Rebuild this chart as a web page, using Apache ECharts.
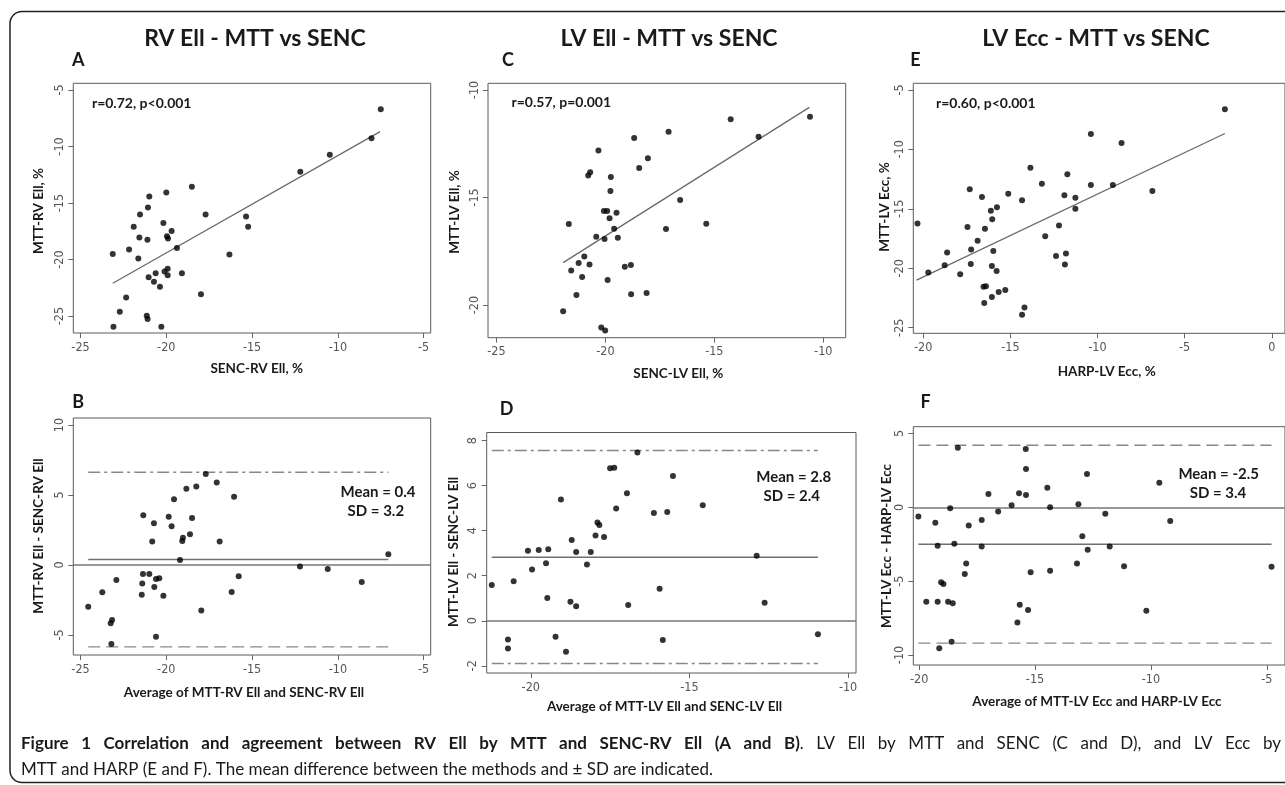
<!DOCTYPE html>
<html><head><meta charset="utf-8">
<script src="https://cdn.jsdelivr.net/npm/echarts@6/dist/echarts.min.js"></script>
<style>html,body{margin:0;padding:0;background:#fff}#c{width:1285px;height:785px}</style>
</head><body><div id="c"></div><script>
// ---- Panel A: SENC-RV Ell (x) vs MTT-RV Ell (y)
const aX = [-7.50,-8.04,-10.47,-12.19,-18.51,-20.00,-20.99,-21.07,-21.53,-17.71,-15.35,-15.23,-21.90,-20.17,-19.69,-19.96,-19.90,-21.57,-21.10,-19.38,-22.17,-23.12,-21.63,-16.32,-19.92,-20.10,-19.92,-20.62,-19.09,-21.03,-20.72,-20.37,-17.98,-22.34,-22.71,-21.14,-21.09,-23.08,-20.29];
const aY = [-6.71,-9.28,-10.73,-12.24,-13.57,-14.07,-14.42,-15.40,-16.02,-16.02,-16.20,-17.11,-17.11,-16.76,-17.47,-17.94,-18.15,-18.06,-18.26,-18.97,-19.12,-19.51,-19.92,-19.56,-20.81,-21.07,-21.40,-21.22,-21.22,-21.57,-21.96,-22.40,-23.08,-23.35,-24.62,-24.97,-25.27,-25.95,-25.95];
const fitAX = [-23.12, -7.54];
const fitAY = [-22.10, -8.69];
// ---- Panel B: average vs difference RV Ell
const bX = [-17.70,-17.06,-18.25,-18.83,-16.05,-19.55,-21.34,-19.86,-18.50,-20.72,-19.69,-18.62,-19.03,-19.07,-20.82,-16.89,-19.20,-7.06,-12.21,-10.59,-8.61,-15.78,-21.36,-20.99,-20.60,-20.41,-22.91,-21.40,-20.70,-23.73,-21.43,-20.17,-16.19,-24.55,-17.96,-23.16,-23.24,-20.60,-23.20];
const bY = [6.50,5.90,5.60,5.45,4.88,4.69,3.55,3.45,3.36,2.98,2.76,2.19,1.95,1.71,1.67,1.67,0.36,0.76,-0.10,-0.29,-1.21,-0.81,-0.64,-0.64,-1.00,-0.95,-1.07,-1.33,-1.57,-1.95,-2.12,-2.19,-1.93,-2.98,-3.26,-3.93,-4.17,-5.12,-5.64];
const bSpan = [-24.55, -7.06];
const bLines = [6.62, 0.4, -5.85];   // upper limit, mean, lower limit
// ---- Panel C: SENC-LV Ell vs MTT-LV Ell
const cX = [-10.61,-14.25,-12.97,-17.10,-18.68,-20.32,-18.05,-18.45,-20.79,-20.70,-19.75,-19.77,-16.57,-20.07,-19.92,-19.49,-19.81,-21.68,-15.37,-17.22,-19.60,-20.42,-20.04,-19.43,-20.97,-21.23,-20.73,-21.57,-19.11,-18.83,-21.07,-19.90,-21.33,-18.82,-18.11,-21.94,-20.19,-20.01];
const cY = [-11.24,-11.36,-12.17,-11.94,-12.23,-12.82,-13.18,-13.63,-13.98,-13.83,-14.05,-14.70,-15.12,-15.63,-15.63,-15.71,-15.97,-16.23,-16.22,-16.47,-16.45,-16.82,-16.93,-16.87,-17.74,-18.05,-18.12,-18.40,-18.22,-18.14,-18.70,-18.84,-19.53,-19.50,-19.44,-20.29,-21.04,-21.19];
const fitCX = [-21.94, -10.64];
const fitCY = [-18.03, -10.81];
// ---- Panel D: average vs difference LV Ell
const dX = [-16.64,-17.50,-17.37,-15.52,-19.05,-16.97,-17.31,-14.58,-16.12,-15.70,-17.90,-17.84,-17.96,-17.69,-18.71,-20.09,-19.75,-19.45,-18.57,-18.11,-19.96,-19.52,-18.23,-12.88,-21.23,-20.54,-15.94,-19.48,-18.75,-18.57,-16.93,-12.63,-20.72,-20.72,-19.22,-18.89,-15.84,-10.95];
const dY = [7.47,6.77,6.80,6.43,5.39,5.66,4.98,5.13,4.79,4.83,4.36,4.25,3.79,3.72,3.59,3.11,3.14,3.17,3.05,3.05,2.28,2.55,2.50,2.89,1.59,1.75,1.42,1.01,0.84,0.64,0.70,0.80,-0.83,-1.23,-0.71,-1.38,-0.86,-0.60];
const dSpan = [-21.23, -10.95];
const dLines = [7.56, 2.82, -1.90];
// ---- Panel E: HARP-LV Ecc vs MTT-LV Ecc
const eX = [-2.69,-10.38,-8.62,-13.85,-11.73,-13.19,-10.38,-9.12,-6.85,-17.33,-16.63,-15.12,-14.33,-11.90,-11.27,-11.27,-15.77,-16.12,-16.04,-20.33,-17.46,-16.46,-12.21,-13.00,-16.88,-17.25,-15.98,-18.63,-12.38,-11.81,-18.77,-17.27,-16.06,-11.87,-15.79,-19.71,-17.88,-16.54,-16.40,-15.29,-15.67,-16.06,-16.50,-14.19,-14.33];
const eY = [-6.63,-8.71,-9.46,-11.54,-12.10,-12.90,-12.99,-12.99,-13.50,-13.35,-14.00,-13.74,-14.27,-13.86,-14.06,-14.99,-14.87,-15.16,-15.88,-16.23,-16.53,-16.68,-16.41,-17.30,-17.69,-18.43,-18.55,-18.67,-18.97,-18.76,-19.74,-19.65,-19.80,-19.68,-20.22,-20.36,-20.51,-21.55,-21.52,-21.82,-22.00,-22.41,-22.92,-23.31,-23.90];
const fitEX = [-20.38, -2.69];
const fitEY = [-20.99, -8.66];
// ---- Panel F: average vs difference LV Ecc
const fX = [-18.33,-15.40,-15.39,-12.76,-9.64,-14.47,-17.01,-15.69,-15.39,-16.01,-13.13,-14.35,-18.66,-16.59,-20.03,-19.30,-17.30,-17.86,-11.97,-9.17,-12.96,-19.20,-18.48,-17.30,-12.73,-11.78,-17.97,-13.19,-11.16,-4.80,-18.03,-15.19,-14.35,-19.05,-18.95,-19.69,-19.20,-18.75,-18.55,-15.66,-15.30,-10.20,-15.76,-19.13,-18.60];
const fY = [4.04,3.95,2.60,2.26,1.67,1.33,0.90,0.95,0.84,0.14,0.20,0.00,-0.07,-0.29,-0.63,-1.04,-0.86,-1.24,-0.43,-0.93,-1.96,-2.60,-2.46,-2.66,-2.87,-2.66,-3.81,-3.81,-4.00,-4.02,-4.51,-4.40,-4.29,-5.08,-5.19,-6.40,-6.40,-6.40,-6.50,-6.60,-6.95,-7.00,-7.80,-9.55,-9.10];
const fSpan = [-20.03, -4.80];
const fLines = [4.2, -2.5, -9.2];
// ---- tick labels
const ticksA_x = [-25,-20,-15,-10,-5], ticksA_y = [-25,-20,-15,-10,-5];
const ticksB_x = [-25,-20,-15,-10,-5], ticksB_y = [-5,0,5,10];
const ticksC_x = [-25,-20,-15,-10],    ticksC_y = [-20,-15,-10];
const ticksD_x = [-20,-15,-10],        ticksD_y = [-2,0,2,4,6,8];
const ticksE_x = [-20,-15,-10,-5,0],   ticksE_y = [-25,-20,-15,-10,-5];
const ticksF_x = [-20,-15,-10,-5],     ticksF_y = [-10,-5,0,5];
// ---- caption
const captionBold = 'Figure 1 Correlation and agreement between RV Ell by MTT and SENC-RV Ell (A and B)';
const captionRest1 = 'LV Ell by MTT and SENC (C and D), and LV Ecc by';
const captionLine2 = 'MTT and HARP (E and F). The mean difference between the methods and \u00b1 SD are indicated.';

const chart = echarts.init(document.getElementById('c'), null, {renderer:'canvas', width:1285, height:785});
const pts = (xs, ys) => xs.map((x, i) => [x, ys[i]]);
const TF = "'Liberation Sans Narrow','DejaVu Sans Condensed','Arial Narrow',sans-serif";
const LF = "Lato, 'Open Sans', sans-serif";

const grids = [
  {left:73.3, top:83.3, width:357.4, height:249.7},
  {left:73.3, top:418, width:357.4, height:237},
  {left:488, top:83.3, width:357.7, height:254.4},
  {left:486.7, top:432.5, width:369.3, height:240.5},
  {left:913.3, top:83.3, width:371.7, height:250},
  {left:913.3, top:426.7, width:371.7, height:238.3}
].map(g => Object.assign(g, {show:true, borderColor:'#5a5a5a', borderWidth:1, backgroundColor:'transparent'}));

function xAx(gi, min, max, ticks){
  return {type:'value', gridIndex:gi, min:min, max:max, scale:true,
    axisLine:{show:false, onZero:false}, splitLine:{show:false},
    axisTick:{show:true, length:5, customValues:ticks, lineStyle:{color:'#666'}},
    axisLabel:{customValues:ticks, margin:8, color:'#555', fontSize:12.5, fontFamily:TF}};
}
function yAx(gi, min, max, ticks){
  return {type:'value', gridIndex:gi, min:min, max:max, scale:true,
    axisLine:{show:false, onZero:false}, splitLine:{show:false},
    axisTick:{show:true, length:5, customValues:ticks, lineStyle:{color:'#666'}},
    axisLabel:{customValues:ticks, margin:7, rotate:90, color:'#555', fontSize:12.5, fontFamily:TF}};
}
const xAxes = [
  xAx(0, -25.42, -4.59, ticksA_x), xAx(1, -25.42, -4.59, ticksB_x),
  xAx(2, -25.39, -8.97, ticksC_x), xAx(3, -21.39, -9.75, ticksD_x),
  xAx(4, -20.57, 0.76, ticksE_x),  xAx(5, -20.25, -4.22, ticksF_x)
];
const yAxes = [
  yAx(0, -26.5, -4.41, ticksA_y), yAx(1, -6.43, 10.5, ticksB_y),
  yAx(2, -21.52, -9.69, ticksC_y), yAx(3, -2.32, 8.36, ticksD_y),
  yAx(4, -25.47, -4.44, ticksE_y), yAx(5, -10.68, 5.46, ticksF_y)
];

const series = [];
function scatter(i, xs, ys){
  series.push({type:'scatter', xAxisIndex:i, yAxisIndex:i, data:pts(xs, ys), symbolSize:6,
    itemStyle:{color:'#000'}, z:5, silent:true});
}
function seg(i, xs, ys, style){
  series.push({type:'line', xAxisIndex:i, yAxisIndex:i, data:pts(xs, ys), symbol:'none', showSymbol:false,
    lineStyle:style, z:2, silent:true});
}
function blandAltman(i, span, lines, upperType, lowerType){
  seg(i, span, [lines[0], lines[0]], {color:'#888', width:1.4, type:upperType});
  seg(i, span, [lines[2], lines[2]], {color:'#888', width:1.4, type:lowerType});
  series.push({type:'line', xAxisIndex:i, yAxisIndex:i, data:pts(span, [lines[1], lines[1]]), symbol:'none',
    lineStyle:{color:'#6f6f6f', width:1.5}, z:2, silent:true,
    markLine:{silent:true, symbol:['none','none'], label:{show:false},
      lineStyle:{color:'#777', width:1.5, type:'solid'}, data:[{yAxis:0}]}});
}
const dashDot = [12, 4, 3, 4];
const dash = [12, 6];

scatter(0, aX, aY); seg(0, fitAX, fitAY, {color:'#6a6a6a', width:1.3});
scatter(1, bX, bY); blandAltman(1, bSpan, bLines, dashDot, dash);
scatter(2, cX, cY); seg(2, fitCX, fitCY, {color:'#6a6a6a', width:1.3});
scatter(3, dX, dY); blandAltman(3, dSpan, dLines, dashDot, dashDot);
scatter(4, eX, eY); seg(4, fitEX, fitEY, {color:'#6a6a6a', width:1.3});
scatter(5, fX, fY); blandAltman(5, fSpan, fLines, dash, dash);

function txt(t, x, y, size, opts){
  opts = opts || {};
  return {type:'text', x:x, y:y, rotation:opts.rot || 0, silent:true, z:10,
    style:{text:t, fill:opts.color || '#1a1a1a', font:(opts.weight || 'bold') + ' ' + size + 'px ' + LF,
      align:opts.align || 'center', verticalAlign:'middle'}};
}
const R = Math.PI / 2;
const graphic = [
  {type:'rect', silent:true, z:0, shape:{x:10, y:11.5, width:1295, height:771, r:12},
    style:{fill:'none', stroke:'#222', lineWidth:1.5}},
  txt('RV Ell - MTT vs SENC', 255, 38.5, 23),
  txt('LV Ell - MTT vs SENC', 669, 38.5, 23),
  txt('LV Ecc - MTT vs SENC', 1096, 38.5, 23),
  txt('A', 78.3, 60.5, 18), txt('B', 78.3, 402.5, 18), txt('C', 508, 60.5, 18),
  txt('D', 506.5, 409, 18), txt('E', 915.5, 60.5, 18), txt('F', 925.5, 402.5, 18),
  txt('r=0.72, p<0.001', 141.7, 103, 14),
  txt('r=0.57, p=0.001', 561.3, 102.7, 14),
  txt('r=0.60, p<0.001', 985.8, 103.3, 14),
  txt('Mean = 0.4', 378, 491.7, 15), txt('SD = 3.2', 375.8, 510.7, 15),
  txt('Mean = 2.8', 793.7, 477.3, 15), txt('SD = 2.4', 791.7, 495.7, 15),
  txt('Mean = -2.5', 1218.7, 474.3, 15), txt('SD = 3.4', 1218, 493.3, 15),
  txt('SENC-RV Ell, %', 256.7, 369, 13.5),
  txt('Average of MTT-RV Ell and SENC-RV Ell', 244, 693, 13.5),
  txt('SENC-LV Ell, %', 678.3, 374, 13.5),
  txt('Average of MTT-LV Ell and SENC-LV Ell', 664.5, 706.7, 13.5),
  txt('HARP-LV Ecc, %', 1106.7, 371.7, 13.5),
  txt('Average of MTT-LV Ecc and HARP-LV Ecc', 1097, 701.7, 13.5),
  txt('MTT-RV Ell, %', 38.3, 211, 13.5, {rot:R}),
  txt('MTT-RV Ell - SENC-RV Ell', 38.3, 536, 13.5, {rot:R}),
  txt('MTT-LV Ell, %', 455, 212, 13.5, {rot:R}),
  txt('MTT-LV Ell - SENC-LV Ell', 453.3, 552, 13.5, {rot:R}),
  txt('MTT-LV Ecc, %', 885, 207, 13.5, {rot:R}),
  txt('MTT-LV Ecc - HARP-LV Ecc', 886.7, 546, 13.5, {rot:R}),
  txt(captionLine2, 21, 770, 17, {weight:'normal', align:'left'})
];

// justified first caption line (word positions from measured widths)
const ctx = document.createElement('canvas').getContext('2d');
const capFont = b => (b ? 'bold' : 'normal') + ' 17px ' + LF;
const measure = (t, b) => { ctx.font = capFont(b); return ctx.measureText(t).width; };
const toks = [];
captionBold.split(' ').forEach((t, i) => toks.push({t:t, b:true, gap:i > 0}));
toks.push({t:'.', b:false, gap:false});
captionRest1.split(' ').forEach(t => toks.push({t:t, b:false, gap:true}));
const capLeft = 21, capRight = 1281;
const wordsW = toks.reduce((s, k) => s + measure(k.t, k.b), 0);
const nGaps = toks.filter(k => k.gap).length;
const gapW = (capRight - capLeft - wordsW) / nGaps;
let cx = capLeft;
toks.forEach(k => {
  if (k.gap) cx += gapW;
  graphic.push({type:'text', x:cx, y:743.5, silent:true, z:10,
    style:{text:k.t, fill:'#1a1a1a', font:capFont(k.b), align:'left', verticalAlign:'middle'}});
  cx += measure(k.t, k.b);
});

chart.setOption({animation:false, backgroundColor:'#fff', grid:grids, xAxis:xAxes, yAxis:yAxes, series:series, graphic:graphic});
</script></body></html>
